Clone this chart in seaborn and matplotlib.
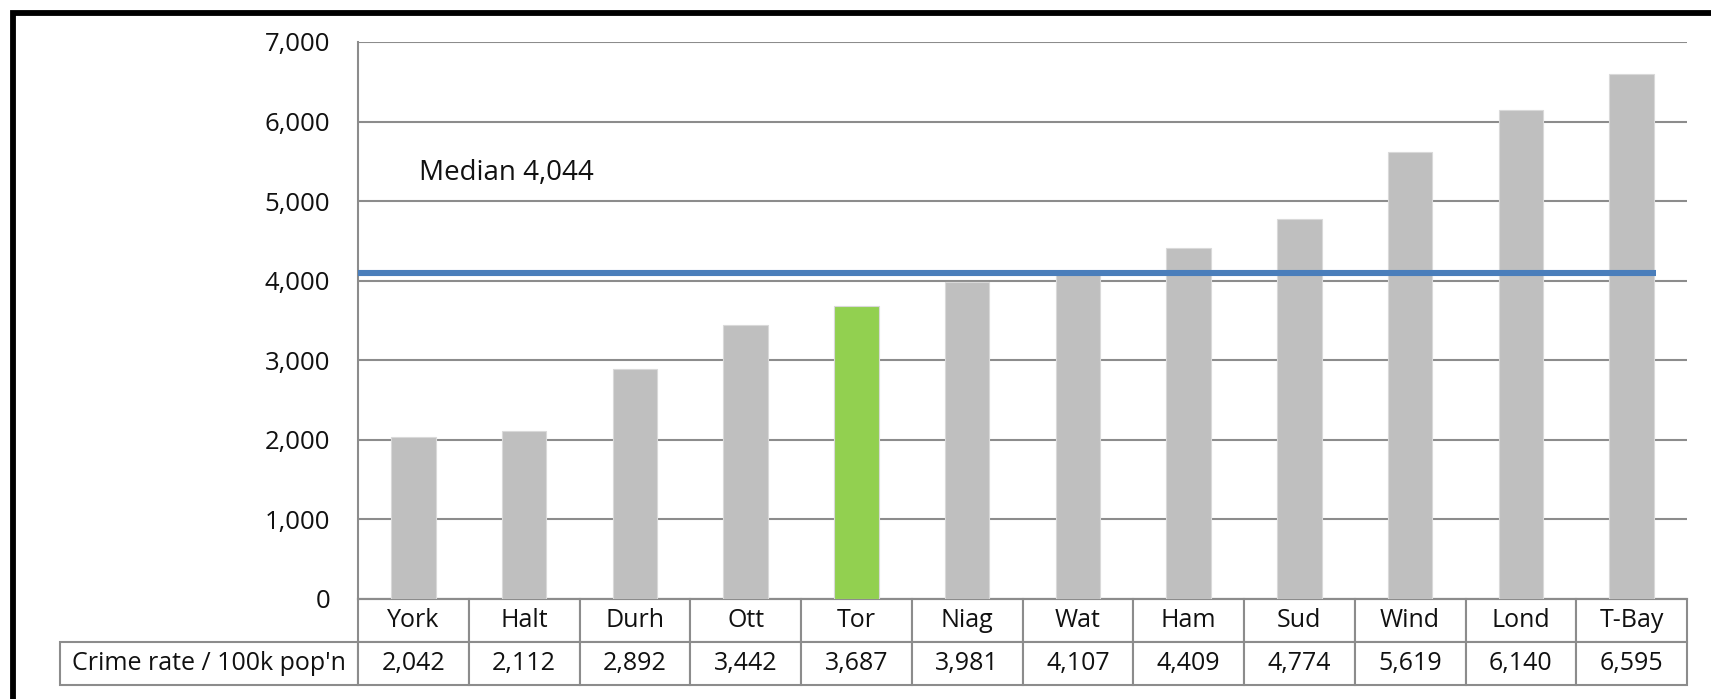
import pandas as pd
import matplotlib
matplotlib.use('Agg')
import matplotlib.pyplot as plt
import seaborn as sns
from matplotlib.patches import Rectangle
from matplotlib.ticker import StrMethodFormatter

# data
cities = ['York', 'Halt', 'Durh', 'Ott', 'Tor', 'Niag', 'Wat', 'Ham', 'Sud', 'Wind', 'Lond', 'T-Bay']
crime_rate = [2042, 2112, 2892, 3442, 3687, 3981, 4107, 4409, 4774, 5619, 6140, 6595]
highlight = 'Tor'
row_label = "Crime rate / 100k pop'n"
median_label = 'Median 4,044'
median_line_y = 4100
y_ticks = [0, 1000, 2000, 3000, 4000, 5000, 6000, 7000]

GREY_BAR = '#bfbfbf'
GREEN_BAR = '#92d050'
BLUE = '#4a7ebb'
GRID = '#8c8c8c'
TXT = '#111111'


def main():
    sns.set_theme(style='white')
    plt.rcParams['font.family'] = ['Open Sans', 'DejaVu Sans']

    df = pd.DataFrame({'city': cities, 'rate': crime_rate})
    palette = {c: (GREEN_BAR if c == highlight else GREY_BAR) for c in cities}

    W, H = 1711, 699
    fig = plt.figure(figsize=(W / 100, H / 100), dpi=100)
    left, right, bottom, top = 358, 1687, 599, 42
    ax = fig.add_axes([left / W, 1 - bottom / H, (right - left) / W, (bottom - top) / H])

    sns.barplot(data=df, x='city', y='rate', hue='city', palette=palette,
                width=0.4, saturation=1, legend=False, ax=ax,
                edgecolor='#d9d9d9', linewidth=0.8, zorder=3)

    n = len(cities)
    ax.plot([-0.5, n - 0.78], [median_line_y, median_line_y], color=BLUE, lw=4.4,
            solid_capstyle='butt', zorder=4, clip_on=False)
    ax.text(0.05, 5350, median_label, fontsize=20, va='center', ha='left', color=TXT)

    ax.set_xlim(-0.5, n - 0.5)
    ax.set_ylim(0, 7000)
    ax.set_yticks(y_ticks)
    ax.yaxis.set_major_formatter(StrMethodFormatter('{x:,.0f}'))
    ax.tick_params(axis='y', length=0, pad=20, labelsize=18.5, labelcolor=TXT)
    ax.set_xticks([])
    ax.set_xlabel('')
    ax.set_ylabel('')
    ax.grid(axis='y', color=GRID, lw=1.5, zorder=0)
    for s in ['top', 'right']:
        ax.spines[s].set_visible(False)
    for s in ['left', 'bottom']:
        ax.spines[s].set_color(GRID)
        ax.spines[s].set_linewidth(1.5)

    # data table under the axis: category row, then the values row
    label_w = (left - 60) / (right - left)
    row_h = 43 / (bottom - top)
    cell_text = [[''] + cities, [row_label] + [f'{v:,}' for v in crime_rate]]
    table = ax.table(cellText=cell_text, cellLoc='center',
                     colWidths=[label_w] + [1 / n] * n,
                     bbox=[-label_w, -2 * row_h, 1 + label_w, 2 * row_h])
    table.auto_set_font_size(False)
    table.set_fontsize(18)
    for (r, c), cell in table.get_celld().items():
        cell.set_edgecolor(GRID)
        cell.set_linewidth(1.5)
        cell.get_text().set_color(TXT)
        if c == 0 and r == 0:
            cell.visible_edges = ''
        elif c == 0:
            cell._loc = 'left'
            cell.PAD = 0.012

    # thick black frame, cropped on the right and bottom
    fig.patches.append(Rectangle((12.5 / W, -0.2), 1.2, 1.2 - 12.5 / H,
                                 transform=fig.transFigure, fill=False,
                                 edgecolor='black', lw=4.2))

    fig.savefig('out.png', dpi=100)
    plt.close(fig)


if __name__ == '__main__':
    main()
